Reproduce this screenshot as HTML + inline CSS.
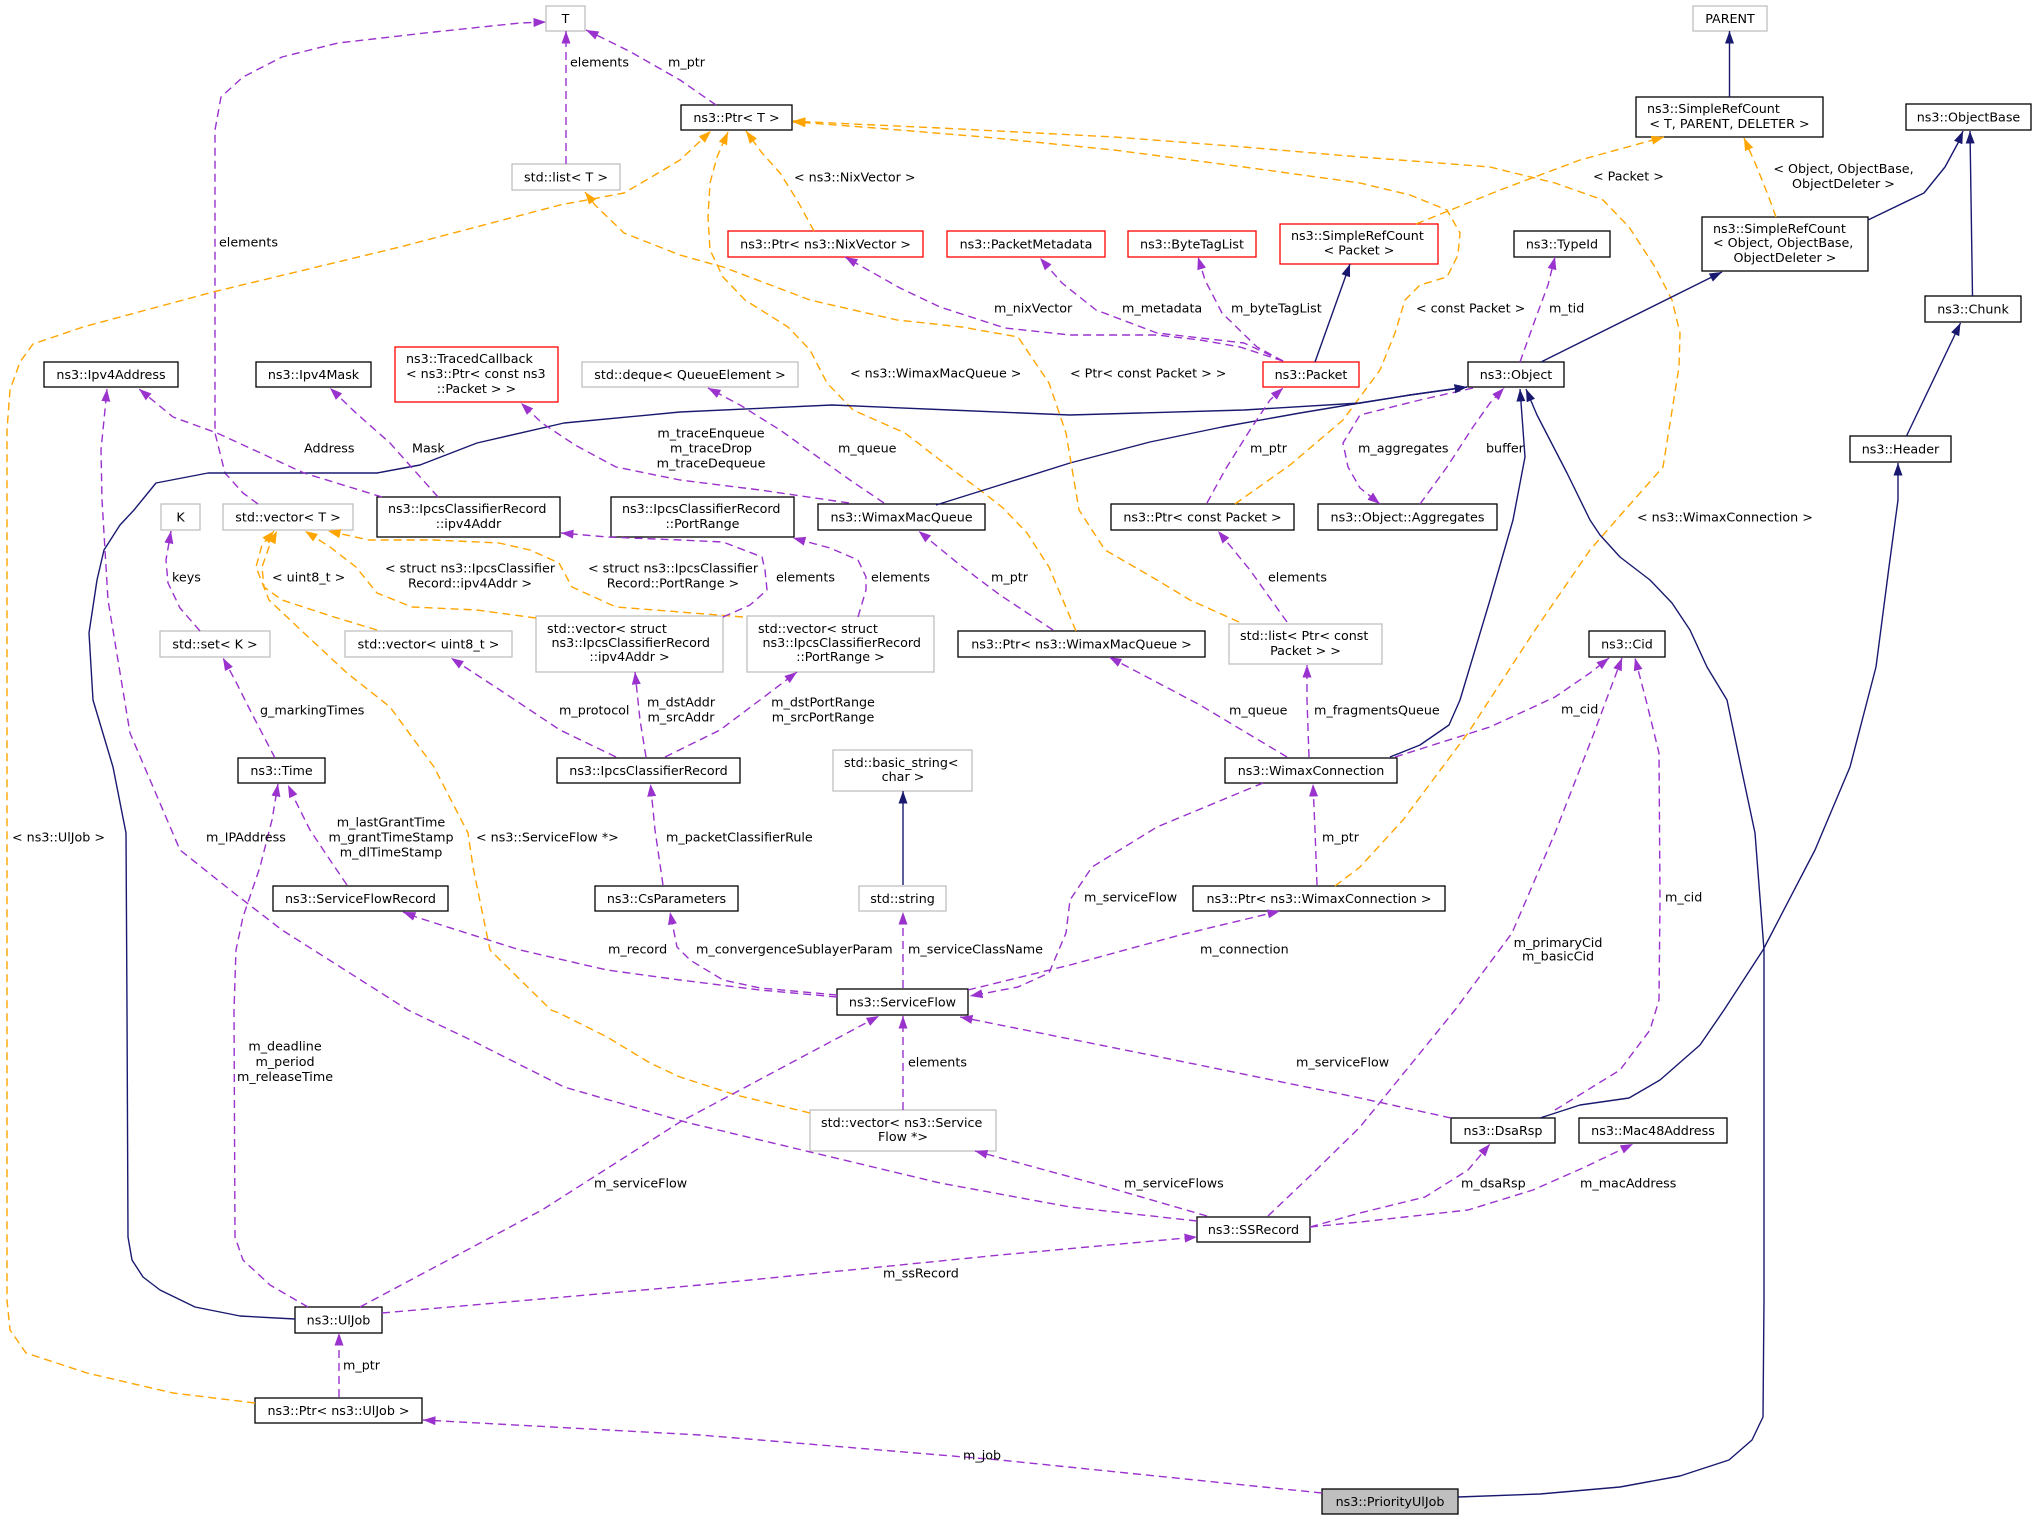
<!DOCTYPE html>
<html><head><meta charset="utf-8">
<style>
html,body{margin:0;padding:0;background:#fff}
svg{display:block}
text{font-family:"DejaVu Sans","Liberation Sans",sans-serif;font-size:12.7px;fill:#000}
.m{text-anchor:middle}
.b{fill:#fff;stroke:#000;stroke-width:1.3}
.g{fill:#fff;stroke:#bfbfbf;stroke-width:1.3}
.r{fill:#fff;stroke:#ff0000;stroke-width:1.3}
.p{fill:none;stroke:#9a32cd;stroke-width:1.4;stroke-dasharray:8 5;stroke-linejoin:round;marker-end:url(#mp)}
.o{fill:none;stroke:#ffa500;stroke-width:1.4;stroke-dasharray:8 5;stroke-linejoin:round;marker-end:url(#mo)}
.n{fill:none;stroke:#191970;stroke-width:1.4;stroke-linejoin:round;marker-end:url(#mn)}
</style></head>
<body>
<svg width="2035" height="1520" viewBox="0 0 2035 1520" xmlns="http://www.w3.org/2000/svg">
<defs>
<marker id="mp" markerUnits="userSpaceOnUse" markerWidth="13" markerHeight="10" viewBox="0 0 13 10" refX="12.5" refY="5" orient="auto"><path d="M0,0.5 L12.5,5 L0,9.5 z" fill="#9a32cd"/></marker>
<marker id="mo" markerUnits="userSpaceOnUse" markerWidth="13" markerHeight="10" viewBox="0 0 13 10" refX="12.5" refY="5" orient="auto"><path d="M0,0.5 L12.5,5 L0,9.5 z" fill="#ffa500"/></marker>
<marker id="mn" markerUnits="userSpaceOnUse" markerWidth="13" markerHeight="10" viewBox="0 0 13 10" refX="12.5" refY="5" orient="auto"><path d="M0,0.5 L12.5,5 L0,9.5 z" fill="#191970"/></marker>
</defs>
<rect width="2035" height="1520" fill="#fff"/>

<!-- nodes -->
<rect class="g" x="546" y="6" width="39" height="25"/>
<rect class="b" x="681" y="105" width="111" height="25"/>
<rect class="g" x="512" y="164" width="108" height="26"/>
<rect class="g" x="1693" y="6" width="74" height="25"/>
<rect class="b" x="1636" y="97" width="187" height="40"/>
<rect class="b" x="1906" y="104" width="125" height="26"/>
<rect class="b" x="1514" y="231" width="96" height="26"/>
<rect class="b" x="1702" y="217" width="166" height="54"/>
<rect class="b" x="1925" y="296" width="96" height="26"/>
<rect class="b" x="1468" y="362" width="96" height="25"/>
<rect class="b" x="1850" y="436" width="101" height="26"/>
<rect class="b" x="44" y="362" width="134" height="25"/>
<rect class="b" x="256" y="362" width="115" height="25"/>
<rect class="r" x="395" y="347" width="163" height="55"/>
<rect class="g" x="582" y="362" width="216" height="25"/>
<rect class="r" x="728" y="231" width="195" height="26"/>
<rect class="r" x="947" y="231" width="158" height="26"/>
<rect class="r" x="1128" y="231" width="128" height="26"/>
<rect class="r" x="1280" y="224" width="158" height="40"/>
<rect class="r" x="1263" y="362" width="96" height="25"/>
<rect class="b" x="377" y="497" width="183" height="40"/>
<rect class="b" x="611" y="497" width="183" height="40"/>
<rect class="b" x="818" y="504" width="167" height="26"/>
<rect class="b" x="1111" y="504" width="183" height="26"/>
<rect class="b" x="1318" y="504" width="179" height="26"/>
<rect class="g" x="161" y="504" width="39" height="26"/>
<rect class="g" x="223" y="504" width="130" height="26"/>
<rect class="g" x="160" y="631" width="110" height="26"/>
<rect class="g" x="345" y="631" width="167" height="26"/>
<rect class="g" x="536" y="616" width="187" height="56"/>
<rect class="g" x="747" y="616" width="187" height="56"/>
<rect class="b" x="958" y="631" width="247" height="26"/>
<rect class="g" x="1229" y="624" width="153" height="40"/>
<rect class="b" x="1589" y="631" width="76" height="26"/>
<rect class="b" x="238" y="758" width="87" height="25"/>
<rect class="b" x="557" y="758" width="183" height="25"/>
<rect class="g" x="833" y="750" width="139" height="41"/>
<rect class="b" x="1225" y="758" width="172" height="25"/>
<rect class="b" x="273" y="886" width="175" height="25"/>
<rect class="b" x="595" y="886" width="143" height="25"/>
<rect class="g" x="859" y="886" width="87" height="25"/>
<rect class="b" x="1193" y="886" width="252" height="25"/>
<rect class="b" x="837" y="989" width="131" height="26"/>
<rect class="g" x="810" y="1110" width="186" height="41"/>
<rect class="b" x="1451" y="1118" width="104" height="25"/>
<rect class="b" x="1579" y="1118" width="148" height="25"/>
<rect class="b" x="1197" y="1217" width="113" height="25"/>
<rect class="b" x="295" y="1307" width="87" height="26"/>
<rect class="b" x="255" y="1398" width="167" height="25"/>
<rect x="1322" y="1489" width="136" height="25" fill="#bfbfbf" stroke="#000" stroke-width="1.3"/>

<!-- edges -->
<polyline class="p" points="566,164 566,31"/>
<polyline class="p" points="258,504 243,493 225,473 215,433 215,130 221,97 243,77 282,57 338,43 434,32 520,23 546,22"/>
<polyline class="p" points="716,105 680,80 629,51 586,30"/>
<polyline class="o" points="814,231 797,200 780,173 762,153 746,131"/>
<polyline class="o" points="1076,631 1070,617 1049,567 1027,533 1003,508 984,493 949,467 905,433 853,410 827,383 810,350 788,327 745,300 723,277 710,250 708,217 710,183 717,157 728,132"/>
<polyline class="o" points="1235,504 1290,465 1343,420 1380,370 1395,333 1405,300 1420,285 1447,277 1458,255 1460,233 1447,210 1410,195 1360,183 1244,167 1114,150 984,137 875,128 810,123 793,122"/>
<polyline class="o" points="1335,886 1360,867 1403,820 1468,733 1533,633 1590,550 1625,510 1663,467 1679,367 1680,333 1672,300 1655,267 1629,227 1603,200 1555,183 1490,167 1360,157 1244,147 1114,137 940,128 810,122 793,121"/>
<polyline class="o" points="1416,224 1500,190 1580,160 1664,137"/>
<polyline class="o" points="1776,217 1768,195 1756,165 1744,138"/>
<polyline class="n" points="1729.5,97 1729.5,31"/>
<polyline class="n" points="1868,220 1924,193 1945,167 1958,143 1963,131"/>
<polyline class="n" points="1972.5,296 1970,131"/>
<polyline class="n" points="1906.5,436 1960.5,323"/>
<polyline class="n" points="1540,1118 1580,1105 1629,1098 1660,1080 1700,1045 1724,1010 1763,950 1815,850 1850,767 1876,667 1889,567 1898,500 1898,463"/>
<polyline class="n" points="1541,362 1722,272"/>
<polyline class="p" points="1520,362 1535,320 1548,285 1555,257"/>
<polyline class="p" points="1420,504 1447,467 1473,427 1490,403 1504,388"/>
<polyline class="p" points="1473,388 1420,400 1360,415 1343,443 1348,467 1360,488 1380,504"/>
<polyline class="n" points="936,505 1000,485 1070,463 1150,442 1222,427 1300,413 1360,403 1410,395 1467,387"/>
<polyline class="n" points="295,1319 240,1316 195,1307 160,1290 143,1277 132,1260 128,1237 127,1010 126,833 113,767 93,700 89,633 97,580 104,550 120,525 134,510 156,483 208,473 377,473 420,465 477,443 564,423 680,412 832,405 950,410 1070,415 1244,410 1360,403 1410,395 1467,387"/>
<polyline class="n" points="1390,757 1420,745 1449,725 1460,700 1490,600 1513,520 1525,457 1520,389"/>
<polyline class="n" points="1458,1497 1540,1494 1620,1487 1680,1476 1729,1460 1752,1440 1763,1417 1764,1300 1764,950 1755,833 1741,767 1727,700 1707,667 1690,630 1672,603 1650,580 1620,557 1600,535 1590,520 1567,473 1537,415 1526,389"/>
<polyline class="n" points="1315,362 1350,264"/>
<polyline class="p" points="1283,361 1240,347 1200,340 1157,335 1070,335 1005,328 940,307 900,288 845,257"/>
<polyline class="p" points="1283,361 1244,343 1157,333 1096,310 1062,283 1040,258"/>
<polyline class="p" points="1283,361 1257,347 1222,313 1205,280 1198,257"/>
<polyline class="p" points="849,503 760,490 680,480 616,467 575,445 542,423 521,403"/>
<polyline class="p" points="884,503 850,480 780,430 740,405 708,388"/>
<polyline class="p" points="382,497 304,473 217,433 173,417 139,389"/>
<polyline class="p" points="438,497 390,443 356,413 330,388"/>
<polyline class="p" points="1197,1221 1070,1207 940,1183 689,1123 564,1087 477,1043 408,1010 282,930 234,893 180,850 130,733 108,600 102,500 101,450 104,420 107,389"/>
<polyline class="p" points="308,1307 270,1285 243,1260 235,1237 234,1010 236,950 243,917 260,867 272,820 278,784"/>
<polyline class="p" points="347,885 330,860 310,830 295,800 288,785"/>
<polyline class="p" points="275,758 250,710 235,680 223,658"/>
<polyline class="p" points="200,631 180,608 168,583 166,560 171,531"/>
<polyline class="o" points="377,630 334,617 282,600 264,587 262,567 269,547 277,531"/>
<polyline class="o" points="536,618 477,610 412,607 377,593 356,567 330,547 305,531"/>
<polyline class="o" points="743,617 680,612 616,607 572,587 559,563 530,550 499,543 434,540 369,540 328,531"/>
<polyline class="p" points="723,617 750,605 767,590 765,570 762,557 723,542 680,540 607,537 561,533"/>
<polyline class="p" points="858,617 866,590 866,577 858,560 830,548 793,538"/>
<polyline class="p" points="616,757 560,730 500,690 451,658"/>
<polyline class="p" points="646,757 640,720 635,672"/>
<polyline class="p" points="665,757 720,730 760,700 797,672"/>
<polyline class="p" points="663,885 655,830 650.5,784"/>
<polyline class="p" points="1053,630 1000,595 960,565 918.5,531"/>
<polyline class="p" points="1287,622 1250,570 1218,531"/>
<polyline class="o" points="1239,622 1190,600 1157,580 1105,550 1079,510 1066,433 1049,383 1018,337 962,327 897,320 810,300 723,267 680,255 624,233 595,205 585,192"/>
<polyline class="p" points="1287,757 1200,705 1109,657"/>
<polyline class="p" points="1309,757 1307,700 1307,665"/>
<polyline class="p" points="1395,757 1490,727 1555,697 1590,673 1609,658"/>
<polyline class="p" points="1317,885 1315,830 1313,784"/>
<polyline class="p" points="1263,783 1157,827 1092,867 1070,900 1066,933 1049,973 1018,987 970,996"/>
<polyline class="p" points="968,990 1070,965 1180,935 1280,911"/>
<polyline class="p" points="903,988 903,912"/>
<polyline class="n" points="903,885 903,791"/>
<polyline class="p" points="837,995 760,988 723,980 690,960 677,947 670,912"/>
<polyline class="p" points="837,997 760,990 680,980 607,970 520,950 416,917 403,912"/>
<polyline class="p" points="903,1110 903,1016"/>
<polyline class="o" points="810,1113 736,1095 680,1077 650,1063 607,1037 559,1013 551,1010 490,950 473,867 468,833 434,767 390,707 347,673 304,633 269,600 256,567 262,545 274,531"/>
<polyline class="p" points="360,1307 542,1210 680,1122 879,1016"/>
<polyline class="p" points="1451,1118 1360,1098 1160,1057 960,1017"/>
<polyline class="p" points="1555,1110 1620,1070 1650,1030 1659,1000 1660,900 1659,753 1646,700 1635,658"/>
<polyline class="p" points="1268,1216 1309,1177 1360,1127 1455,1010 1512,933 1555,833 1594,733 1610,690 1622,658"/>
<polyline class="p" points="1310,1227 1360,1213 1425,1197 1468,1170 1490,1144"/>
<polyline class="p" points="1310,1227 1360,1222 1468,1210 1533,1190 1585,1167 1633,1144"/>
<polyline class="p" points="1207,1216 1100,1185 975,1151"/>
<polyline class="p" points="382,1313 700,1285 1000,1255 1197,1237"/>
<polyline class="p" points="339,1397 339,1333"/>
<polyline class="o" points="255,1403 173,1393 87,1373 26,1353 10,1330 7,1300 7,430 10,390 20,362 33,344 83,327 213,292 400,247 560,205 624,193 660,172 680,160 711,131"/>
<polyline class="p" points="1322,1493 1000,1460 700,1435 423,1420"/>
<polyline class="p" points="1207,503 1225,470 1250,430 1270,400 1283,388"/>

<!-- node labels -->
<text class="m" x="565.5" y="23.1">T</text>
<text class="m" x="736.5" y="122.1">ns3::Ptr&lt; T &gt;</text>
<text class="m" x="566" y="181.6">std::list&lt; T &gt;</text>
<text class="m" x="1730" y="23.1">PARENT</text>
<text x="1647" y="113">ns3::SimpleRefCount</text>
<text class="m" x="1729.5" y="128">&lt; T, PARENT, DELETER &gt;</text>
<text class="m" x="1968.5" y="121.6">ns3::ObjectBase</text>
<text class="m" x="1562" y="248.6">ns3::TypeId</text>
<text x="1713" y="233">ns3::SimpleRefCount</text>
<text x="1713" y="247">&lt; Object, ObjectBase,</text>
<text class="m" x="1785" y="262">ObjectDeleter &gt;</text>
<text class="m" x="1973" y="313.6">ns3::Chunk</text>
<text class="m" x="1516" y="379.1">ns3::Object</text>
<text class="m" x="1900.5" y="453.6">ns3::Header</text>
<text class="m" x="111" y="379.1">ns3::Ipv4Address</text>
<text class="m" x="313.5" y="379.1">ns3::Ipv4Mask</text>
<text x="406" y="363">ns3::TracedCallback</text>
<text x="406" y="378">&lt; ns3::Ptr&lt; const ns3</text>
<text class="m" x="476.5" y="393">::Packet &gt; &gt;</text>
<text class="m" x="690" y="379.1">std::deque&lt; QueueElement &gt;</text>
<text class="m" x="825.5" y="248.6">ns3::Ptr&lt; ns3::NixVector &gt;</text>
<text class="m" x="1026" y="248.6">ns3::PacketMetadata</text>
<text class="m" x="1192" y="248.6">ns3::ByteTagList</text>
<text x="1291" y="240">ns3::SimpleRefCount</text>
<text class="m" x="1359" y="254.5">&lt; Packet &gt;</text>
<text class="m" x="1311" y="379.1">ns3::Packet</text>
<text x="388" y="513">ns3::IpcsClassifierRecord</text>
<text class="m" x="468.5" y="528">::ipv4Addr</text>
<text x="622" y="513">ns3::IpcsClassifierRecord</text>
<text class="m" x="702.5" y="528">::PortRange</text>
<text class="m" x="901.5" y="521.6">ns3::WimaxMacQueue</text>
<text class="m" x="1202.5" y="521.6">ns3::Ptr&lt; const Packet &gt;</text>
<text class="m" x="1407.5" y="521.6">ns3::Object::Aggregates</text>
<text class="m" x="180.5" y="521.6">K</text>
<text class="m" x="288" y="521.6">std::vector&lt; T &gt;</text>
<text class="m" x="215" y="648.6">std::set&lt; K &gt;</text>
<text class="m" x="428.5" y="648.6">std::vector&lt; uint8_t &gt;</text>
<text x="547" y="633">std::vector&lt; struct</text>
<text x="551.5" y="647">ns3::IpcsClassifierRecord</text>
<text class="m" x="629.5" y="661">::ipv4Addr &gt;</text>
<text x="758" y="633">std::vector&lt; struct</text>
<text x="762.5" y="647">ns3::IpcsClassifierRecord</text>
<text class="m" x="840.5" y="661">::PortRange &gt;</text>
<text class="m" x="1081.5" y="648.6">ns3::Ptr&lt; ns3::WimaxMacQueue &gt;</text>
<text x="1240" y="640">std::list&lt; Ptr&lt; const</text>
<text class="m" x="1305.5" y="655">Packet &gt; &gt;</text>
<text class="m" x="1627" y="648.6">ns3::Cid</text>
<text class="m" x="281.5" y="775.1">ns3::Time</text>
<text class="m" x="648.5" y="775.1">ns3::IpcsClassifierRecord</text>
<text x="844" y="767">std::basic_string&lt;</text>
<text class="m" x="903" y="781">char &gt;</text>
<text class="m" x="1311" y="775.1">ns3::WimaxConnection</text>
<text class="m" x="360.5" y="903.1">ns3::ServiceFlowRecord</text>
<text class="m" x="666.5" y="903.1">ns3::CsParameters</text>
<text class="m" x="902.5" y="903.1">std::string</text>
<text class="m" x="1319" y="903.1">ns3::Ptr&lt; ns3::WimaxConnection &gt;</text>
<text class="m" x="902.5" y="1006.6">ns3::ServiceFlow</text>
<text x="821" y="1127">std::vector&lt; ns3::Service</text>
<text class="m" x="903" y="1141">Flow *&gt;</text>
<text class="m" x="1503" y="1135.1">ns3::DsaRsp</text>
<text class="m" x="1653" y="1135.1">ns3::Mac48Address</text>
<text class="m" x="1253.5" y="1234.1">ns3::SSRecord</text>
<text class="m" x="338.5" y="1324.6">ns3::UlJob</text>
<text class="m" x="338.5" y="1415.1">ns3::Ptr&lt; ns3::UlJob &gt;</text>
<text class="m" x="1390" y="1506.1">ns3::PriorityUlJob</text>

<!-- edge labels -->
<text x="570" y="66.5">elements</text>
<text x="219" y="246.5">elements</text>
<text x="668" y="66.5">m_ptr</text>
<text x="794" y="181.5">&lt; ns3::NixVector &gt;</text>
<text x="850" y="377.5">&lt; ns3::WimaxMacQueue &gt;</text>
<text x="1416" y="312.5">&lt; const Packet &gt;</text>
<text x="1637" y="521.5">&lt; ns3::WimaxConnection &gt;</text>
<text x="1593" y="180.5">&lt; Packet &gt;</text>
<text class="m" x="1843.5" y="173">&lt; Object, ObjectBase,</text>
<text class="m" x="1843.5" y="188">ObjectDeleter &gt;</text>
<text x="1549" y="312.5">m_tid</text>
<text x="1486" y="452.5">buffer</text>
<text x="1358" y="452.5">m_aggregates</text>
<text x="994" y="312.5">m_nixVector</text>
<text x="1122" y="312.5">m_metadata</text>
<text x="1231" y="312.5">m_byteTagList</text>
<text class="m" x="711" y="437.5">m_traceEnqueue</text>
<text class="m" x="711" y="452.5">m_traceDrop</text>
<text class="m" x="711" y="467.5">m_traceDequeue</text>
<text x="838" y="452.5">m_queue</text>
<text x="304" y="452.5">Address</text>
<text x="412" y="452.5">Mask</text>
<text x="1250" y="452.5">m_ptr</text>
<text x="1070" y="377.5">&lt; Ptr&lt; const Packet &gt; &gt;</text>
<text x="206" y="841.5">m_IPAddress</text>
<text class="m" x="285" y="1050.5">m_deadline</text>
<text class="m" x="285" y="1066">m_period</text>
<text class="m" x="285" y="1081">m_releaseTime</text>
<text class="m" x="391" y="826.5">m_lastGrantTime</text>
<text class="m" x="391" y="841.5">m_grantTimeStamp</text>
<text class="m" x="391" y="856.5">m_dlTimeStamp</text>
<text x="260" y="714.5">g_markingTimes</text>
<text x="172" y="581.5">keys</text>
<text x="272" y="581.5">&lt; uint8_t &gt;</text>
<text class="m" x="470" y="572.5">&lt; struct ns3::IpcsClassifier</text>
<text class="m" x="470" y="587.5">Record::ipv4Addr &gt;</text>
<text class="m" x="673" y="572.5">&lt; struct ns3::IpcsClassifier</text>
<text class="m" x="673" y="587.5">Record::PortRange &gt;</text>
<text x="776" y="581.5">elements</text>
<text x="871" y="581.5">elements</text>
<text x="559" y="714.5">m_protocol</text>
<text class="m" x="681" y="706.5">m_dstAddr</text>
<text class="m" x="681" y="721.5">m_srcAddr</text>
<text class="m" x="823" y="706.5">m_dstPortRange</text>
<text class="m" x="823" y="721.5">m_srcPortRange</text>
<text x="666" y="841.5">m_packetClassifierRule</text>
<text x="991" y="581.5">m_ptr</text>
<text x="1268" y="581.5">elements</text>
<text x="1229" y="714.5">m_queue</text>
<text x="1314" y="714.5">m_fragmentsQueue</text>
<text x="1561" y="713.5">m_cid</text>
<text x="1322" y="841.5">m_ptr</text>
<text x="1084" y="901.5">m_serviceFlow</text>
<text x="1200" y="953.5">m_connection</text>
<text x="908" y="953.5">m_serviceClassName</text>
<text x="696" y="953.5">m_convergenceSublayerParam</text>
<text x="608" y="953.5">m_record</text>
<text x="908" y="1066.5">elements</text>
<text x="476" y="841.5">&lt; ns3::ServiceFlow *&gt;</text>
<text x="594" y="1187.5">m_serviceFlow</text>
<text x="1296" y="1066.5">m_serviceFlow</text>
<text x="1665" y="901.5">m_cid</text>
<text class="m" x="1558" y="947">m_primaryCid</text>
<text class="m" x="1558" y="960.5">m_basicCid</text>
<text x="1461" y="1187.5">m_dsaRsp</text>
<text x="1580" y="1187.5">m_macAddress</text>
<text x="1124" y="1187.5">m_serviceFlows</text>
<text x="883" y="1277.5">m_ssRecord</text>
<text x="343" y="1369.5">m_ptr</text>
<text x="12" y="841.5">&lt; ns3::UlJob &gt;</text>
<text x="963" y="1459.5">m_job</text>
</svg>
</body></html>
